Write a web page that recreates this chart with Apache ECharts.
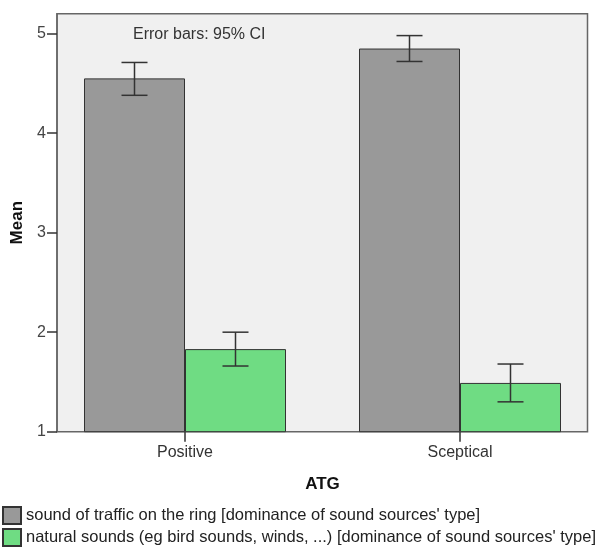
<!DOCTYPE html>
<html>
<head>
<meta charset="utf-8">
<script src="https://cdn.jsdelivr.net/npm/echarts@6/dist/echarts.min.js"></script>
<style>
html,body{margin:0;padding:0;background:#fff;}
#c{width:599px;height:547px;}
</style>
</head>
<body>
<div id="c"></div>
<script>
const categories = ['Positive', 'Sceptical'];
const seriesNames = [
  "sound of traffic on the ring [dominance of sound sources' type]",
  "natural sounds (eg bird sounds, winds, ...) [dominance of sound sources' type]"
];
const trafficMean = [4.55, 4.85];
const trafficLow = [4.38, 4.72];
const trafficHigh = [4.71, 4.98];
const naturalMean = [1.83, 1.49];
const naturalLow = [1.66, 1.30];
const naturalHigh = [2.00, 1.68];
const yTicks = [1, 2, 3, 4, 5];

const FONT = 'Liberation Sans, Arial, sans-serif';
const BAR_W = 101;

function errData(lows, highs) {
  return categories.map((c, i) => [i, lows[i], highs[i]]);
}
function makeErr(sign) {
  return function (params, api) {
    const lo = api.coord([api.value(0), api.value(1)]);
    const hi = api.coord([api.value(0), api.value(2)]);
    const x = lo[0] + sign * BAR_W / 2;
    const cap = 13;
    const style = { stroke: '#333', lineWidth: 1.5 };
    return {
      type: 'group',
      children: [
        { type: 'line', shape: { x1: x, y1: lo[1], x2: x, y2: hi[1] }, style },
        { type: 'line', shape: { x1: x - cap, y1: lo[1], x2: x + cap, y2: lo[1] }, style },
        { type: 'line', shape: { x1: x - cap, y1: hi[1], x2: x + cap, y2: hi[1] }, style }
      ]
    };
  };
}

const chart = echarts.init(document.getElementById('c'), null, { renderer: 'canvas' });
chart.setOption({
  animation: false,
  textStyle: { fontFamily: FONT },
  graphic: [{
    type: 'text', left: 133, top: 27,
    style: { text: 'Error bars: 95% CI', font: '16px ' + FONT, fill: '#333' }
  }],
  legend: {
    orient: 'vertical', left: 2, bottom: 0, padding: 0,
    itemWidth: 18, itemHeight: 17, itemGap: 3,
    icon: 'rect',
    textStyle: { fontSize: 16.5, color: '#222', fontFamily: FONT },
    data: seriesNames
  },
  grid: [
    { left: 57, right: 11.5, top: 13.7, bottom: 115.3, show: true,
      backgroundColor: '#f0f0f0', borderColor: '#666', borderWidth: 1.5 },
    { left: 47.5, right: 1.5, top: 13.7, bottom: 115.3 }
  ],
  xAxis: [
    { gridIndex: 0, type: 'category', data: categories, show: false },
    { gridIndex: 1, type: 'category', data: categories,
      axisLine: { show: false },
      axisTick: { show: true, alignWithLabel: true, length: 10, lineStyle: { color: '#333', width: 1.5 } },
      axisLabel: { fontSize: 16, color: '#333', margin: 13, fontFamily: FONT },
      name: 'ATG', nameLocation: 'middle', nameGap: 44,
      nameTextStyle: { fontSize: 17, fontWeight: 'bold', color: '#111', fontFamily: FONT }
    }
  ],
  yAxis: [
    { gridIndex: 0, type: 'value', min: 1, max: 5.2, interval: 1,
      axisLine: { show: true, lineStyle: { color: '#666', width: 1.5 } },
      axisTick: { show: true, length: 10, lineStyle: { color: '#333', width: 1.5 } },
      axisLabel: { fontSize: 16, color: '#444', margin: 11, showMaxLabel: false, fontFamily: FONT },
      splitLine: { show: false },
      name: 'Mean', nameLocation: 'middle', nameGap: 31, nameRotate: 90,
      nameTextStyle: { fontSize: 17, fontWeight: 'bold', color: '#111', fontFamily: FONT }
    },
    { gridIndex: 1, type: 'value', min: 1, max: 5.2, show: false }
  ],
  series: [
    { name: seriesNames[0], type: 'bar', xAxisIndex: 1, yAxisIndex: 1,
      data: trafficMean, barWidth: BAR_W, barGap: '0%',
      itemStyle: { color: '#999999', borderColor: '#333', borderWidth: 1 } },
    { name: seriesNames[1], type: 'bar', xAxisIndex: 1, yAxisIndex: 1,
      data: naturalMean, barWidth: BAR_W, barGap: '0%',
      itemStyle: { color: '#6fdc83', borderColor: '#333', borderWidth: 1 } },
    { type: 'custom', xAxisIndex: 1, yAxisIndex: 1, renderItem: makeErr(-1),
      data: errData(trafficLow, trafficHigh), z: 10 },
    { type: 'custom', xAxisIndex: 1, yAxisIndex: 1, renderItem: makeErr(1),
      data: errData(naturalLow, naturalHigh), z: 10 }
  ]
});
</script>
</body>
</html>
